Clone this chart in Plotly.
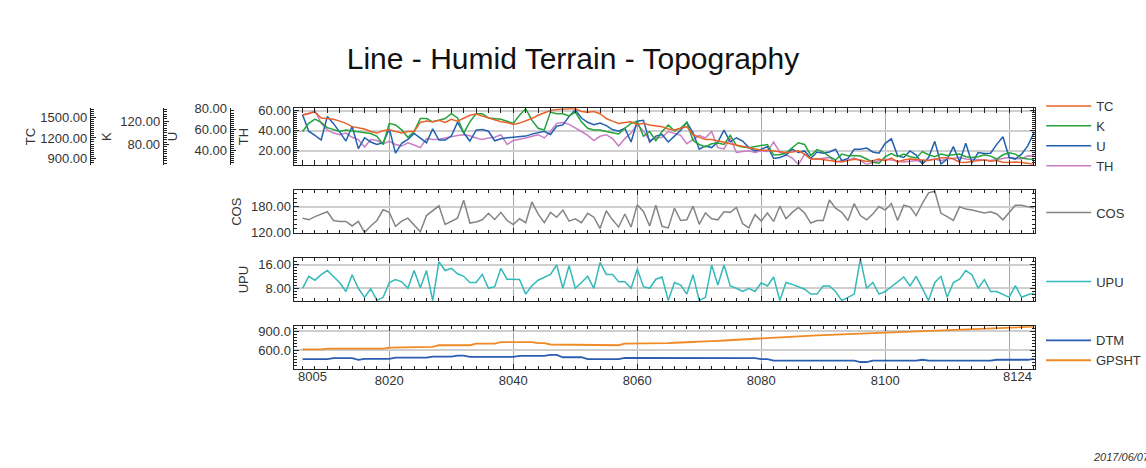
import plotly.graph_objects as go

# ---------------- data ----------------
fid = list(range(8006, 8125))

TC = [1548, 1562, 1586, 1499, 1490, 1480, 1452, 1418, 1369, 1354,
      1335, 1297, 1273, 1307, 1321, 1297, 1273, 1297, 1297, 1432,
      1452, 1442, 1465, 1432, 1480, 1452, 1499, 1539, 1558, 1529,
      1490, 1465, 1442, 1432, 1403, 1422, 1452, 1490, 1539, 1577,
      1611, 1625, 1635, 1635, 1635, 1596, 1586, 1596, 1562, 1490,
      1452, 1418, 1432, 1442, 1403, 1418, 1393,
      1384, 1369, 1335, 1321, 1345, 1369, 1248, 1210, 1176, 1176,
      1161, 1137, 1113, 1094, 1069, 1056, 1031, 1016, 1016, 1007,
      997, 982, 992, 1007, 959, 886, 891, 882, 862, 852,
      843, 862, 882, 871, 848, 862, 886, 862, 901, 838,
      871, 886, 882, 871, 862, 886, 901, 910, 886, 838,
      833, 852, 862, 871, 852, 862, 838, 833, 843, 833,
      824, 801]

K = [102.3, 116.2, 123.4, 117.9, 108.9, 105.0, 102.3, 105.0, 103.4, 102.3,
     100.0, 98.9, 93.9, 80.0, 116.2, 113.4, 105.0, 92.3, 102.3, 124.5,
     124.5, 118.9, 121.7, 124.5, 132.9, 125.6, 99.5, 118.9, 132.9, 132.9,
     125.6, 124.5, 123.4, 120.0, 116.2, 130.1, 141.2, 121.7, 107.9, 105.0,
     135.6, 132.9, 132.9, 129.0, 135.6, 118.9, 107.9, 105.0, 105.0, 102.3,
     99.5, 97.9, 107.9, 116.2, 120.0, 93.9, 102.3,
     86.7, 102.3, 113.4, 103.4, 107.9, 117.9, 86.7, 80.0, 75.6, 81.2,
     82.3, 80.0, 95.6, 78.4, 75.6, 74.5, 76.7, 79.0, 80.0, 62.3,
     62.3, 65.6, 74.5, 82.9, 80.0, 61.1, 71.1, 67.3, 59.0, 53.4,
     63.4, 60.6, 61.1, 60.0, 55.0, 49.4, 47.8, 59.0, 64.5, 59.0,
     63.4, 59.0, 56.7, 67.8, 62.3, 59.0, 63.4, 61.1, 62.3, 63.4,
     59.0, 57.8, 59.0, 62.3, 60.0, 55.0, 62.3, 65.6, 63.4, 56.7,
     55.0, 54.5]

U = [74.3, 58.4, 54.3, 49.9, 72.7, 65.7, 57.5, 48.9, 63.2, 41.6,
     52.1, 48.0, 45.7, 47.3, 60.7, 37.2, 46.7, 50.5, 56.2, 52.1,
     47.3, 60.7, 49.9, 49.9, 53.7, 67.0, 56.9, 48.9, 59.4, 60.0,
     58.4, 49.2, 51.1, 52.1, 52.4, 53.0, 53.7, 55.6, 56.9, 58.4,
     55.3, 63.2, 64.5, 72.7, 79.1, 71.1, 67.0, 64.8, 66.4, 63.8,
     60.0, 58.4, 61.3, 48.0, 68.0, 68.9, 48.0,
     53.7, 55.3, 48.0, 53.7, 59.4, 67.0, 56.9, 41.0, 44.2, 42.6,
     48.0, 59.4, 48.0, 52.1, 48.9, 42.6, 39.4, 41.0, 43.5, 32.1,
     33.0, 35.3, 41.0, 37.8, 39.4, 32.1, 38.4, 37.2, 38.4, 41.0,
     29.9, 32.1, 41.0, 41.0, 42.2, 38.4, 37.2, 46.7, 51.1, 34.6,
     33.0, 39.4, 35.3, 26.6, 33.0, 48.6, 26.7, 31.5, 43.5, 28.9,
     46.7, 27.6, 37.8, 36.9, 37.2, 45.7, 53.0, 33.0, 31.5, 36.2,
     44.2, 56.9]

TH = [55.2, 56.8, 60.0, 47.2, 40.7, 37.5, 35.9, 37.5, 33.3, 31.1,
      23.6, 31.1, 30.1, 26.9, 29.4, 26.2, 24.6, 27.8, 25.6, 23.0,
      32.0, 31.1, 31.4, 32.7, 34.3, 35.2, 35.9, 34.9, 32.7, 31.1,
      32.7, 33.3, 35.9, 26.2, 30.1, 31.1, 32.7, 34.3, 35.9, 32.7,
      39.1, 47.2, 48.1, 46.2, 43.0, 39.1, 35.2, 30.1, 34.3, 35.9,
      32.0, 24.6, 32.0, 37.5, 46.2, 39.7, 30.1,
      32.7, 33.3, 39.1, 37.2, 35.2, 26.9, 31.1, 35.2, 32.7, 39.1,
      23.0, 21.7, 32.7, 18.2, 19.1, 19.8, 18.2, 19.8, 19.1, 28.8,
      18.2, 15.9, 12.7, 6.2, 16.6, 11.7, 11.4, 12.1, 13.3, 8.5,
      10.1, 10.8, 12.7, 10.1, 6.2, 8.5, 10.1, 11.4, 10.8, 10.1,
      8.8, 9.5, 10.1, 8.5, 10.8, 11.7, 10.1, 11.7, 12.7, 13.3,
      11.7, 11.4, 11.7, 10.8, 10.1, 11.4, 12.1, 13.3, 12.4, 11.7,
      14.9, 14.6]

COS = [153.8, 150.0, 157.5, 163.5, 168.7, 148.5, 146.3, 146.3, 135.8, 146.3,
       120.8, 135.8, 148.5, 173.2, 167.2, 135.0, 147.0, 153.8, 137.3, 122.3,
       159.8, 171.0, 182.2, 139.5, 147.0, 153.8, 195.0, 142.5, 144.8, 150.0,
       165.0, 150.8, 167.2, 148.5, 138.8, 152.3, 143.3, 191.2, 163.5, 143.3,
       167.2, 156.0, 172.5, 147.0, 152.3, 143.3, 165.0, 156.0, 129.8, 171.0,
       150.0, 133.5, 163.5, 133.5, 184.5, 169.5, 135.8, 183.7,
       135.0, 131.3, 177.0, 148.5, 150.0, 181.5, 139.5, 165.7, 152.3, 150.0,
       168.7, 167.2, 178.5, 141.0, 131.3, 162.0, 147.0, 165.7, 146.3, 181.5,
       152.3, 167.2, 178.5, 165.7, 142.5, 148.5, 148.5, 195.7, 177.0, 167.2,
       148.5, 187.5, 159.8, 150.0, 163.5, 180.7, 172.5, 187.5, 148.5, 183.7,
       180.0, 159.8, 188.2, 212.2, 215.9, 165.0, 157.5, 148.5, 180.0, 174.7,
       172.5, 169.5, 165.7, 168.7, 163.5, 150.0, 167.2, 183.7, 183.7, 180.0,
       177.0]

UPU = [8.0, 12.06, 10.74, 12.61, 14.03, 12.06, 9.86, 6.90, 12.61, 8.0,
       4.93, 7.78, 3.9, 4.93, 9.97, 10.96, 10.19, 8.0, 14.03, 8.22,
       14.03, 3.8, 17.0, 14.03, 14.8, 12.94, 12.06, 9.97, 9.97, 12.72,
       8.0, 8.55, 14.8, 11.07, 11.07, 10.96, 6.02, 8.88, 10.74, 11.84,
       12.72, 15.9, 8.0, 15.68, 8.0, 9.97, 12.06, 8.0, 16.78, 12.72,
       12.72, 10.19, 10.19, 8.0, 14.58, 8.55, 8.0, 11.07,
       11.84, 3.83, 9.97, 9.10, 6.02, 12.61, 3.83, 4.93, 15.9, 9.10,
       15.9, 8.77, 8.0, 6.90, 8.0, 6.90, 9.86, 8.77, 11.84, 3.83,
       9.97, 9.32, 8.55, 7.67, 6.02, 6.02, 8.77, 8.77, 6.90, 3.83,
       4.93, 6.02, 18.0, 8.0, 9.97, 6.02, 6.90, 8.55, 10.41, 11.84,
       8.77, 12.06, 8.0, 3.83, 9.97, 12.06, 4.93, 9.97, 11.07, 14.03,
       12.61, 8.0, 10.96, 6.90, 6.90, 6.02, 4.93, 8.88, 4.93, 5.81,
       6.35]

DTM = [454, 454, 454, 454, 454, 470, 470, 470, 470, 444,
       459, 459, 459, 459, 459, 480, 480, 480, 480, 480,
       480, 496, 496, 496, 496, 512, 512, 490, 490, 490,
       490, 490, 490, 490, 490, 506, 506, 506, 506, 506,
       522, 522, 485, 485, 485, 485, 454, 454, 454, 454,
       454, 454, 475, 475, 475, 475, 475,
       470, 470, 470, 470, 470, 470, 470, 470, 470, 470,
       470, 470, 470, 470, 470, 470, 470, 454, 454, 429,
       429, 429, 429, 429, 429, 429, 429, 429, 429, 429,
       429, 429, 429, 408, 408, 429, 429, 429, 429, 429,
       429, 429, 429, 444, 429, 429, 429, 429, 429, 429,
       429, 429, 429, 429, 429, 444, 444, 444, 444, 444,
       444, 460]

GPSHT = [610, 610, 610, 610, 625, 625, 625, 625, 625, 625,
         625, 625, 625, 625, 641, 641, 641, 641, 651, 651,
         651, 651, 678, 678, 678, 678, 678, 678, 703, 703,
         703, 703, 729, 729, 729, 729, 729, 729, 713, 713,
         690, 690, 678, 678, 678, 678, 678, 678, 678, 678,
         678, 678, 703, 703, 703, 703, 703,
         706, 706, 712, 718, 718, 724, 730, 736, 736, 742,
         748, 754, 760, 766, 772, 778, 784, 796, 800, 805,
         810, 815, 815, 822, 826, 832, 838, 842, 846, 852,
         856, 860, 864, 868, 872, 876, 880, 885, 888, 892,
         896, 900, 904, 908, 912, 916, 920, 924, 928, 932,
         936, 940, 944, 948, 952, 955, 958, 962, 966, 970,
         974, 977]

x_tick_vals = [8020, 8040, 8060, 8080, 8100, 8120]
x_tick_text = ["8020", "8040", "8060", "8080", "8100", ""]
x_end_labels = [("8005", 8007.6), ("8124", 8121.3)]

# ---------------- layout helpers ----------------
W, H = 1146, 468
def px(v):
    return v / W
def py(v):
    return 1 - v / H

FONT = "Liberation Sans, Arial, sans-serif"
TXT = "#333333"
AX = "#222222"

fig = go.Figure()

top_series = [("TC", TC, "y7", "#e8622a"),
              ("K", K, "y6", "#22a33b"),
              ("U", U, "y5", "#2160b0"),
              ("TH", TH, "y", "#c97ec4")]
for name, vals, ya, col in top_series:
    fig.add_trace(go.Scatter(x=fid, y=vals, name=name, mode="lines",
                             line=dict(color=col, width=1.5),
                             xaxis="x", yaxis=ya, legend="legend"))

fig.add_trace(go.Scatter(x=fid, y=COS, name="COS", mode="lines",
                         line=dict(color="#858585", width=1.5),
                         xaxis="x2", yaxis="y2", legend="legend2"))
fig.add_trace(go.Scatter(x=fid, y=UPU, name="UPU", mode="lines",
                         line=dict(color="#33b9b9", width=1.5),
                         xaxis="x3", yaxis="y3", legend="legend3"))
fig.add_trace(go.Scatter(x=fid, y=DTM, name="DTM", mode="lines",
                         line=dict(color="#2a5cb0", width=1.8),
                         xaxis="x4", yaxis="y4", legend="legend4"))
fig.add_trace(go.Scatter(x=fid, y=GPSHT, name="GPSHT", mode="lines",
                         line=dict(color="#f08a24", width=1.8),
                         xaxis="x4", yaxis="y4", legend="legend4"))

xdom = [px(295), px(1037)]

def xaxis(anchor, labels=False):
    return dict(domain=xdom, anchor=anchor, range=[8004.7, 8124.2],
                tickmode="array", tickvals=x_tick_vals, ticktext=x_tick_text,
                showticklabels=labels, tickfont=dict(size=13, color=TXT, family=FONT),
                showgrid=True, gridcolor="#a8a8a8", gridwidth=1,
                ticks="inside", ticklen=5, tickcolor=AX,
                showline=True, linecolor=AX, linewidth=1, mirror="allticks",
                zeroline=False,
                minor=dict(tick0=8004, dtick=2, ticks="inside", ticklen=3,
                           tickcolor=AX, showgrid=False))

def yaxis(dom, rng, tv, fmt, mdt, title, standoff=6, **kw):
    d = dict(domain=dom, range=rng, tickmode="array", tickvals=tv,
             tickformat=fmt, tickfont=dict(size=13, color=TXT, family=FONT),
             ticks="inside", ticklen=5, tickcolor=AX,
             showline=True, linecolor=AX, linewidth=1,
             zeroline=False,
             minor=dict(dtick=mdt, ticks="inside", ticklen=3, tickcolor=AX,
                        showgrid=False),
             title=dict(text=title, font=dict(size=13, color=TXT, family=FONT),
                        standoff=standoff))
    d.update(kw)
    return d

top_dom = [py(162.7), py(104.5)]
grid = dict(showgrid=True, gridcolor="#cfcfcf", gridwidth=1.5)

fig.update_layout(
    width=W, height=H,
    margin=dict(l=0, r=0, t=0, b=0),
    paper_bgcolor="white", plot_bgcolor="white",
    font=dict(family=FONT, color=TXT),
    title=dict(text="Line - Humid Terrain - Topography", x=0.5, xanchor="center",
               y=py(58), yanchor="middle",
               font=dict(size=30, color="#111111", family=FONT)),
    xaxis=xaxis("y"),
    xaxis2=xaxis("y2"),
    xaxis3=xaxis("y3"),
    xaxis4=xaxis("y4", labels=True),
    yaxis=yaxis(top_dom, [5.9, 62.12], [20, 40, 60], ".2f", 2, "TH",
                anchor="x", mirror="allticks", **grid),
    yaxis5=yaxis(top_dom, [25.95, 80.47], [40, 60, 80], ".2f", 2, "U", standoff=12,
                 overlaying="y", anchor="free", position=px(230), side="left",
                 showgrid=False),
    yaxis6=yaxis(top_dom, [45, 142], [80, 120], ".2f", 4, "K", standoff=4,
                 overlaying="y", anchor="free", position=px(163), side="left",
                 showgrid=False),
    yaxis7=yaxis(top_dom, [799, 1642], [900, 1200, 1500], ".2f", 30, "TC", standoff=0,
                 overlaying="y", anchor="free", position=px(90), side="left",
                 showgrid=False),
    yaxis2=yaxis([py(233), py(189)], [119.5, 218], [120, 180], ".2f", 10, "COS",
                 anchor="x2", mirror="allticks", **grid),
    yaxis3=yaxis([py(303), py(259)], [3.7, 18.2], [8, 16], ".2f", 1, "UPU",
                 anchor="x3", mirror="allticks", **grid),
    yaxis4=yaxis([py(373), py(329)], [298, 985], [600, 900], ".1f", 50, "",
                 anchor="x4", mirror="allticks", **grid),
)

leg_common = dict(x=px(1043), xanchor="left", yanchor="middle", itemwidth=45,
                  bgcolor="rgba(0,0,0,0)", borderwidth=0,
                  font=dict(size=13, color=TXT, family=FONT), tracegroupgap=0)
fig.update_layout(
    legend=dict(y=py(133), **leg_common),
    legend2=dict(y=py(212), **leg_common),
    legend3=dict(y=py(283), **leg_common),
    legend4=dict(y=py(354), **leg_common),
)

for txt, xv in x_end_labels:
    fig.add_annotation(text=txt, x=xv, xref="x4", y=py(381), yref="paper",
                       showarrow=False, xanchor="center", yanchor="middle",
                       font=dict(size=13, color=TXT, family=FONT))

fig.add_annotation(text="<i>2017/06/07</i>", x=px(1093), xref="paper",
                   y=py(464), yref="paper", xanchor="left", yanchor="middle",
                   showarrow=False, font=dict(size=11, color=TXT, family=FONT))

fig.write_html("out.html",
               config={"displayModeBar": False},
               post_script="document.body.style.margin='0';"
                           "document.body.style.overflow='hidden';")
